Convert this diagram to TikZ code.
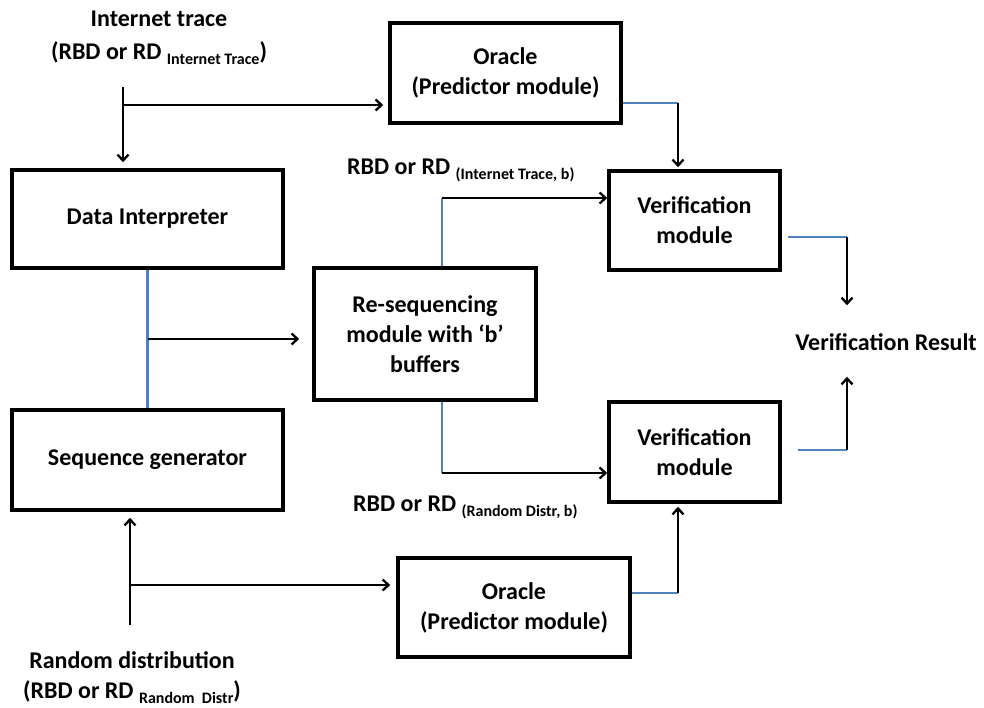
\documentclass[tikz,border=0pt]{standalone}
\usepackage{fontspec}
\setmainfont{Carlito}
\usetikzlibrary{arrows.meta,calc}

\definecolor{linkblue}{RGB}{79,129,189}
% small lowered text after "RBD or RD"
\newcommand{\rdsub}[1]{\raisebox{-5pt}{\fontsize{16}{18}\selectfont #1}}

\tikzset{
  box/.style={draw, line width=3.5pt, align=center, inner sep=0pt,
    font=\bfseries\fontsize{24}{30}\selectfont},
  lbl/.style={align=center, inner sep=0pt,
    font=\bfseries\fontsize{24}{32}\selectfont},
  flow/.style={->, line width=2.3pt},
  link/.style={linkblue, line width=2.3pt},
}

\begin{document}
\begin{tikzpicture}[x=1pt, y=-1pt, >={Straight Barb[length=6pt,width=11pt]}]
  \useasboundingbox (0,0) rectangle (984,707);

  % boxes
  \node[box, minimum width=271pt, minimum height=98pt] (di) at (147.5,219) {Data Interpreter};
  \node[box, minimum width=271pt, minimum height=100pt] (sg) at (147.5,460) {Sequence generator};
  \node[box, minimum width=222pt, minimum height=132pt] (rs) at (425,334) {Re-sequencing\\module with ‘b’\\buffers};
  \node[box, minimum width=231pt, minimum height=100pt] (oA) at (505.5,73) {Oracle\\(Predictor module)};
  \node[box, minimum width=232pt, minimum height=99pt] (oB) at (514,607.5) {Oracle\\(Predictor module)};
  \node[box, minimum width=171pt, minimum height=99pt] (v1) at (694.5,220.5) {Verification\\module};
  \node[box, minimum width=171pt, minimum height=100pt] (v2) at (694.5,452) {Verification\\module};

  % labels
  \node[lbl, font=\bfseries\fontsize{24}{33}\selectfont] (itLbl) at (159,38) {Internet trace\\(RBD or RD \rdsub{Internet Trace})};
  \node[lbl, font=\bfseries\fontsize{24}{30}\selectfont] (rdLbl) at (132,678) {Random distribution\\(RBD or RD \rdsub{Random\ \ Distr})};
  \node[lbl, anchor=west] (rsTLbl) at (347,170) {RBD or RD \rdsub{(Internet Trace, b)}};
  \node[lbl, anchor=west] (rsBLbl) at (353,507) {RBD or RD \rdsub{(Random Distr, b)}};
  \node[lbl] (res) at (886,342) {Verification Result};

  % turning points
  \coordinate (itA) at (123,87);
  \coordinate (itB) at (123,105);
  \coordinate (rdA) at (130,625);
  \coordinate (rdB) at (130,585);
  \coordinate (rsT) at (442,198);
  \coordinate (rsB) at (442,473);
  \coordinate (oAt) at (678,103);
  \coordinate (oBt) at (678,593);
  \coordinate (v1t) at (847,237);
  \coordinate (v2t) at (847,450);
  \coordinate (dsm) at ($(di.south)!0.5!(sg.north)$);

  % inputs
  \draw[flow, shorten >=6pt] (itA) -- (itA |- di.north);
  \draw[flow, shorten >=5pt] (itB) -- (itB -| oA.west);
  \draw[flow, shorten >=6pt] (rdA) -- (rdA |- sg.south);
  \draw[flow, shorten >=6pt] (rdB) -- (rdB -| oB.west);

  % generator side
  \draw[link] (di.south) -- (sg.north);
  \draw[flow, shorten >=13pt] (dsm) -- (dsm -| rs.west);

  % re-sequencing outputs
  \draw[link] (rsT |- rs.north) -- (rsT);
  \draw[flow] (rsT) -- (rsT -| v1.west);
  \draw[link] (rsB |- rs.south) -- (rsB);
  \draw[flow] (rsB) -- (rsB -| v2.west);

  % oracle outputs
  \draw[link] (oA.east |- oAt) -- (oAt);
  \draw[flow, shorten >=2pt] (oAt) -- (oAt |- v1.north);
  \draw[link] (oB.east |- oBt) -- (oBt);
  \draw[flow, shorten >=3pt] (oBt) -- (oBt |- v2.south);

  % verification result
  \draw[link] ([xshift=6pt]v1.east |- v1t) -- (v1t);
  \draw[flow, shorten >=28pt] (v1t) -- (v1t |- res.north);
  \draw[link] ([xshift=16pt]v2.east |- v2t) -- (v2t);
  \draw[flow, shorten >=26pt] (v2t) -- (v2t |- res.south);
\end{tikzpicture}
\end{document}
